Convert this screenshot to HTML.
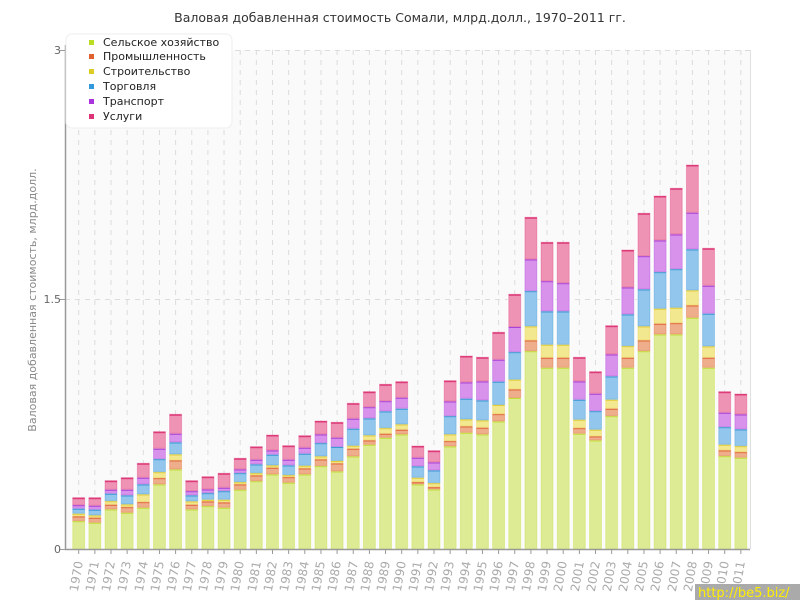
<!DOCTYPE html>
<html><head><meta charset="utf-8">
<style>
body{margin:0;background:#fff;}
svg{display:block;font-family:"DejaVu Sans","Liberation Sans",sans-serif;}
</style></head>
<body>
<svg id="c" width="800" height="600" xmlns="http://www.w3.org/2000/svg">
<rect x="0" y="0" width="800" height="600" fill="#fff"/>
<rect x="65" y="50" width="685" height="499" fill="#fafafa"/>
<g id="grid" stroke="#dcdcdc" stroke-dasharray="5,5" stroke-width="1"></g>
<line x1="65" y1="299.5" x2="750" y2="299.5" stroke="#dcdcdc" stroke-dasharray="5,5"/>
<line x1="65" y1="50.5" x2="750" y2="50.5" stroke="#dcdcdc" stroke-dasharray="5,5"/>
<line x1="750.5" y1="50" x2="750.5" y2="549" stroke="#e0e0e0"/>
<g id="bars"></g>
<line x1="65.5" y1="45" x2="65.5" y2="550" stroke="#999" stroke-width="1.5"/>
<line x1="65" y1="549.5" x2="750" y2="549.5" stroke="#999" stroke-width="1.5"/>
<line x1="60" y1="50.5" x2="65" y2="50.5" stroke="#999"/>
<line x1="60" y1="299.5" x2="65" y2="299.5" stroke="#999"/>
<line x1="60" y1="549.5" x2="65" y2="549.5" stroke="#999"/>
<g font-size="11" fill="#666" text-anchor="end">
<text x="61" y="54">3</text>
<text x="61" y="303">1.5</text>
<text x="61" y="553">0</text>
</g>
<text x="36" y="300" font-size="11" fill="#888" text-anchor="middle" transform="rotate(-90 36 300)">Валовая добавленная стоимость, млрд.долл.</text>
<text x="400" y="22" font-size="12.5" fill="#333" text-anchor="middle">Валовая добавленная стоимость Сомали, млрд.долл., 1970–2011 гг.</text>
<g id="xl" font-size="12" fill="#aaa" text-anchor="end">
<text transform="translate(83,562) rotate(-80)">1970</text>
<text transform="translate(99,562) rotate(-80)">1971</text>
<text transform="translate(115,562) rotate(-80)">1972</text>
<text transform="translate(131,562) rotate(-80)">1973</text>
<text transform="translate(148,562) rotate(-80)">1974</text>
<text transform="translate(164,562) rotate(-80)">1975</text>
<text transform="translate(180,562) rotate(-80)">1976</text>
<text transform="translate(196,562) rotate(-80)">1977</text>
<text transform="translate(212,562) rotate(-80)">1978</text>
<text transform="translate(228,562) rotate(-80)">1979</text>
<text transform="translate(244,562) rotate(-80)">1980</text>
<text transform="translate(261,562) rotate(-80)">1981</text>
<text transform="translate(277,562) rotate(-80)">1982</text>
<text transform="translate(293,562) rotate(-80)">1983</text>
<text transform="translate(309,562) rotate(-80)">1984</text>
<text transform="translate(325,562) rotate(-80)">1985</text>
<text transform="translate(341,562) rotate(-80)">1986</text>
<text transform="translate(358,562) rotate(-80)">1987</text>
<text transform="translate(374,562) rotate(-80)">1988</text>
<text transform="translate(390,562) rotate(-80)">1989</text>
<text transform="translate(406,562) rotate(-80)">1990</text>
<text transform="translate(422,562) rotate(-80)">1991</text>
<text transform="translate(438,562) rotate(-80)">1992</text>
<text transform="translate(454,562) rotate(-80)">1993</text>
<text transform="translate(471,562) rotate(-80)">1994</text>
<text transform="translate(487,562) rotate(-80)">1995</text>
<text transform="translate(503,562) rotate(-80)">1996</text>
<text transform="translate(519,562) rotate(-80)">1997</text>
<text transform="translate(535,562) rotate(-80)">1998</text>
<text transform="translate(551,562) rotate(-80)">1999</text>
<text transform="translate(567,562) rotate(-80)">2000</text>
<text transform="translate(584,562) rotate(-80)">2001</text>
<text transform="translate(600,562) rotate(-80)">2002</text>
<text transform="translate(616,562) rotate(-80)">2003</text>
<text transform="translate(632,562) rotate(-80)">2004</text>
<text transform="translate(648,562) rotate(-80)">2005</text>
<text transform="translate(664,562) rotate(-80)">2006</text>
<text transform="translate(681,562) rotate(-80)">2007</text>
<text transform="translate(697,562) rotate(-80)">2008</text>
<text transform="translate(713,562) rotate(-80)">2009</text>
<text transform="translate(729,562) rotate(-80)">2010</text>
<text transform="translate(745,562) rotate(-80)">2011</text>
</g>
<g>
<rect x="66" y="34" width="166" height="94" rx="6" fill="#fff" stroke="#eee"/>
<g font-size="11" fill="#222">
<rect x="89" y="40" width="5" height="5" fill="#bbdd22"/><text x="103" y="46">Сельское хозяйство</text>
<rect x="89" y="54" width="5" height="5" fill="#e06030"/><text x="103" y="60">Промышленность</text>
<rect x="89" y="69" width="5" height="5" fill="#ddcc22"/><text x="103" y="75">Строительство</text>
<rect x="89" y="84" width="5" height="5" fill="#3399dd"/><text x="103" y="90">Торговля</text>
<rect x="89" y="99" width="5" height="5" fill="#aa33dd"/><text x="103" y="105">Транспорт</text>
<rect x="89" y="114" width="5" height="5" fill="#dd3377"/><text x="103" y="120">Услуги</text>
</g>
</g>
<rect x="695" y="584" width="105" height="16" fill="#aaa"/>
<text x="698" y="597" font-size="13" fill="#ffee00">http://be5.biz/</text>
</svg>
<script>
var d=[
[520.7,516,513.3,508.3,504.7,497.7],[522.3,517.3,515,509.3,505.3,497.7],[509,504.3,500.7,493.3,489.3,480.7],
[512.3,506.7,504,495,489.3,477.7],[507.3,501.7,494,484,477.3,463.3],[484,477.7,471.7,458.7,448.3,431.7],
[469,460,454,442,433.3,414.3],[509,504.3,501,495,490.7,480.7],[505.7,501,499.3,492.7,489,476.7],
[507.3,502,499.3,490.7,487.3,473.3],[489.3,484,481.7,472.7,469,458.3],[480.7,475,472.7,464,459.3,446.7],
[474,467.3,465,454.3,450,435],[482.3,476.7,474.7,465,459.3,445.7],[474,468,465.3,453.3,447.3,435.7],
[465.7,459,456,442.7,434,421],[471,463,460.5,446.5,437.3,422.3],[456,448.3,445.3,428.3,418.3,403.3],
[444.3,440,435,418,406.7,391.7],[437.3,433.3,427.7,411,400.7,384.3],[434,429.3,424,408.3,397.3,381.7],
[484,481.7,477.3,466,457.3,446],[489,486.7,482.7,470,462,450.7],[446,440.7,434,415.7,401,380.7],
[432.3,426,419,398.3,382,356],[434,427.3,420,400,381,357.3],[421,413.7,404.5,381.3,359.3,332.3],
[397.5,389,379.2,351.7,326.5,294.3],[350.7,340,326,290.7,259,217.3],[367.3,357.3,344.3,311,280.7,242.3],
[367.3,357.3,344.3,311,282.7,242.3],[433.3,427.7,419.3,399.3,381,357.3],[440,436,429.3,410.7,393.3,371.7],
[415.7,408.3,399.3,376,354,325.7],[367.3,357.3,345.7,314,287,250],[350.7,340,326,289,255.7,213.3],
[334,323.3,308.3,271.7,240,196],[334,322.7,307.3,268.7,234,188.3],[317.3,305,290,249,212.3,165],
[367.3,357.3,346,313.3,285.3,248.3],[455.7,450,444.3,426.7,412.3,391.7],[457.3,451.7,445.7,429,414,394]];
var fill=["#dceb94","#eeae8c","#f2e890","#92c6ec","#d892ec","#ef93b4"];
var st=["#c4dd3a","#e0683a","#e4cc3a","#3e9bd6","#a844d8","#dd3a78"];
var ns="http://www.w3.org/2000/svg",b=document.getElementById("bars"),g=document.getElementById("grid");
function el(p,t,a){var e=document.createElementNS(ns,t);for(var k in a)e.setAttribute(k,a[k]);p.appendChild(e);return e;}
for(var i=0;i<42;i++){
 var cx=78.7+i*16.15;
 el(g,"line",{x1:cx,y1:50,x2:cx,y2:549});
 el(g,"line",{x1:cx,y1:549,x2:cx,y2:554,stroke:"#999","stroke-dasharray":"none"});
 var prev=549;
 for(var s=0;s<6;s++){
  var t=d[i][s];
  el(b,"rect",{x:cx-7.5,y:t-0.5,width:15,height:prev-t+1,fill:"#fff",opacity:0.6});
  el(b,"rect",{x:cx-6,y:t,width:12,height:prev-t,fill:fill[s],stroke:st[s],"stroke-opacity":0.35,"stroke-width":1});
  el(b,"rect",{x:cx-6,y:t,width:12,height:1.5,fill:st[s]});
  prev=t;
 }
}
</script>
</body></html>
